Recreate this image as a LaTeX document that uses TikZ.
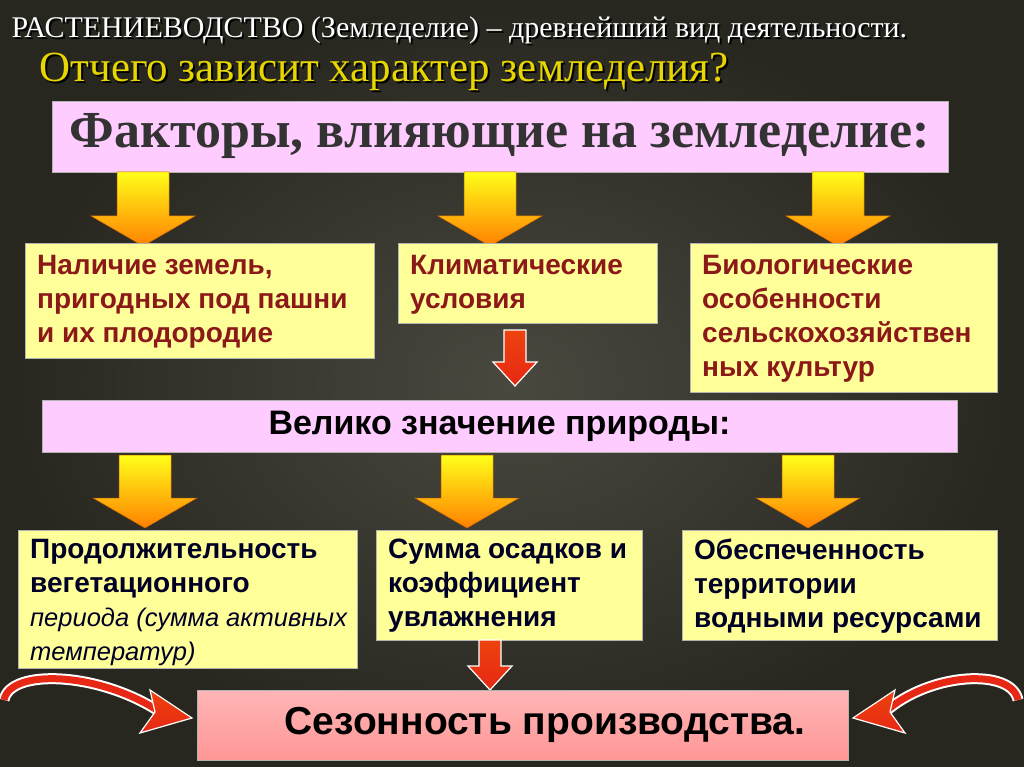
\documentclass[tikz,border=0pt]{standalone}
\usepackage{fontspec}
\setmainfont{Liberation Serif}
\newfontfamily\sansf{Liberation Sans}
\usetikzlibrary{shadings}
\definecolor{bg}{RGB}{52,52,42}
\definecolor{ttl}{RGB}{232,214,0}
\definecolor{pinkb}{RGB}{255,204,255}
\definecolor{ylb}{RGB}{255,255,153}
\definecolor{maroon}{RGB}{140,25,25}
\definecolor{salmon}{RGB}{255,150,150}
\definecolor{redar}{RGB}{230,40,20}
\tikzset{
 pbox/.style={fill=pinkb,draw=gray!60},
 ybox/.style={fill=ylb,draw=gray!60},
 ytxt/.style={font=\sansf\bfseries\fontsize{28}{34}\selectfont,align=left,anchor=north west,inner sep=0pt},
 yarr/.style={top color=yellow!90!white,bottom color=orange,draw=orange!80!black,line width=0.5pt},
 rarr/.style={top color=redar!70!orange,bottom color=redar,draw=white,line width=1.2pt}
}
\newcommand{\yarrow}[3]{% center x, top y, bottom y
 \path[yarr] ({#1-26},#2) -- ({#1+26},#2) -- ({#1+26},{#3-30}) -- ({#1+52},{#3-30}) -- (#1,#3) -- ({#1-52},{#3-30}) -- ({#1-26},{#3-30}) -- cycle;}
\newcommand{\rarrow}[3]{%
 \path[rarr] ({#1-11},#2) -- ({#1+11},#2) -- ({#1+11},{#3-24}) -- ({#1+22},{#3-24}) -- (#1,#3) -- ({#1-22},{#3-24}) -- ({#1-11},{#3-24}) -- cycle;}
\begin{document}
\begin{tikzpicture}[x=1pt,y=-1pt]
\useasboundingbox (0,0) rectangle (1024,767);
\fill[inner color=bg!90!white,outer color=bg!75!black] (0,0) rectangle (1024,767);
\node[anchor=west,black,font=\fontsize{30}{32}\selectfont] at (10,32) {РАСТЕНИЕВОДСТВО (Земледелие) – древнейший вид деятельности.};
\node[anchor=west,white,font=\fontsize{30}{32}\selectfont] (t1) at (8,30) {РАСТЕНИЕВОДСТВО (Земледелие) – древнейший вид деятельности.};
\node[anchor=west,black,font=\fontsize{43}{45}\selectfont] at (38,74) {Отчего зависит характер земледелия?};
\node[anchor=west,ttl,font=\fontsize{43}{45}\selectfont] (t2) at (36,72) {Отчего зависит характер земледелия?};
\node[pbox,minimum width=896pt,minimum height=71pt,font=\bfseries\fontsize{52}{56}\selectfont,text=black!80] (f) at (500,136.5) {Факторы, влияющие на земледелие:};
\yarrow{143}{172}{246}
\yarrow{490}{172}{246}
\yarrow{838}{172}{246}
\draw[ybox] (25,243) rectangle (374,358);
\node[ytxt,text=maroon] (b1) at (37,255) {Наличие земель,\\пригодных под пашни\\и их плодородие};
\draw[ybox] (398,243) rectangle (657,323);
\node[ytxt,text=maroon] (b2) at (410,255) {Климатические\\условия};
\draw[ybox] (690,243) rectangle (997,392);
\node[ytxt,text=maroon] (b3) at (702,255) {Биологические\\особенности\\сельскохозяйствен\\ных культур};
\rarrow{515}{330}{386}
\node[pbox,minimum width=915pt,minimum height=52pt,font=\sansf\bfseries\fontsize{34}{36}\selectfont] (v) at (499.5,426) {Велико значение природы:};
\yarrow{145}{455}{528}
\yarrow{467}{455}{528}
\yarrow{808}{455}{528}
\draw[ybox] (18,530) rectangle (357,668);
\node[ytxt,text=black!85!blue] (b4) at (30,539) {Продолжительность\\вегетационного\\{\mdseries\itshape\fontsize{25.5}{32}\selectfont периода (сумма активных}\\{\mdseries\itshape\fontsize{25.5}{32}\selectfont температур)}};
\draw[ybox] (376,530) rectangle (642,640);
\node[ytxt,text=black!85!blue] (b5) at (388,539) {Сумма осадков и\\коэффициент\\увлажнения};
\draw[ybox] (682,530) rectangle (997,640);
\node[ytxt,text=black!85!blue] (b6) at (694,539) {Обеспеченность\\территории\\водными ресурсами};
\rarrow{490}{640}{690}
\node[top color=salmon!70!white,bottom color=salmon,draw=gray!60,minimum width=651pt,minimum height=70pt] (s) at (522.5,725) {};
\node[font=\sansf\bfseries\fontsize{39}{42}\selectfont] (st) at (545,725) {Сезонность производства.};
% curved arrows
\draw[white,line width=11pt] (4,700) .. controls (10,668) and (100,672) .. (160,712);
\draw[redar,line width=7pt] (4,700) .. controls (10,668) and (100,672) .. (160,712);
\path[rarr] (192,718) -- (150,690) -- (155,712) -- (140,733) -- cycle;
\draw[white,line width=11pt] (1018,700) .. controls (1012,668) and (930,672) .. (885,712);
\draw[redar,line width=7pt] (1018,700) .. controls (1012,668) and (930,672) .. (885,712);
\path[rarr] (853,718) -- (895,690) -- (890,712) -- (905,733) -- cycle;
\end{tikzpicture}
\end{document}
